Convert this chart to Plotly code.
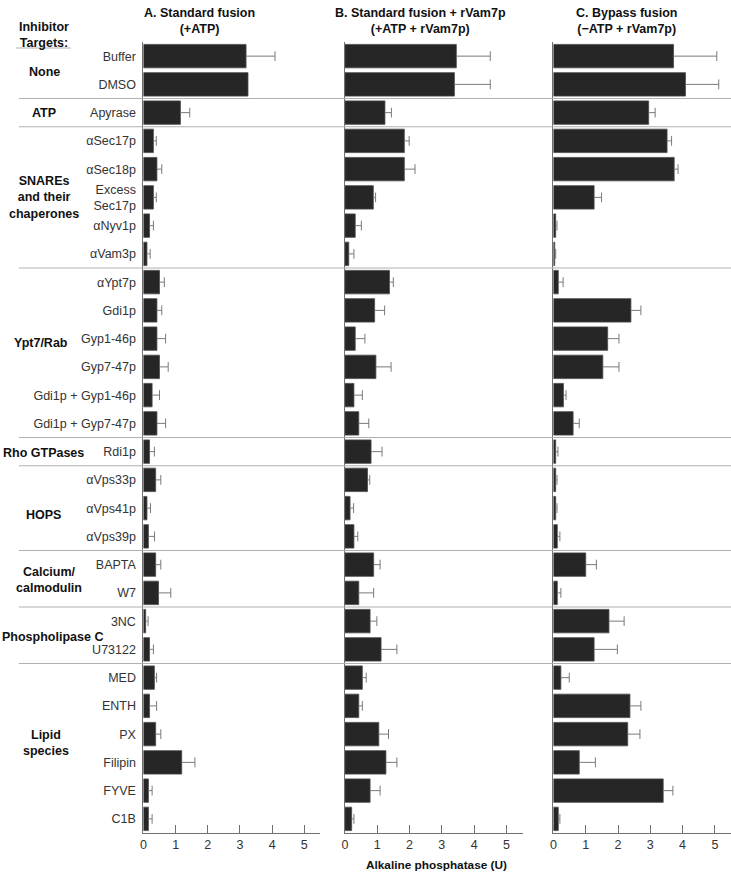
import plotly.graph_objects as go

# ---------------- data ----------------
categories = ["Buffer", "DMSO", "Apyrase",
              "αSec17p", "αSec18p", "Excess<br>Sec17p", "αNyv1p", "αVam3p",
              "αYpt7p", "Gdi1p", "Gyp1-46p", "Gyp7-47p", "Gdi1p + Gyp1-46p", "Gdi1p + Gyp7-47p",
              "Rdi1p",
              "αVps33p", "αVps41p", "αVps39p",
              "BAPTA", "W7",
              "3NC", "U73122",
              "MED", "ENTH", "PX", "Filipin", "FYVE", "C1B"]

groups = ["None", "ATP", "SNAREs<br>and their<br>chaperones", "Ypt7/Rab", "Rho GTPases",
          "HOPS", "Calcium/<br>calmodulin", "Phospholipase C", "Lipid<br>species"]
group_sizes = [2, 1, 5, 6, 1, 3, 2, 2, 6]

panel_titles = ["A. Standard fusion<br>(+ATP)",
                "B. Standard fusion + rVam7p<br>(+ATP + rVam7p)",
                "C. Bypass fusion<br>(\u2212ATP + rVam7p)"]

A_mean = [3.19, 3.25, 1.15, 0.31, 0.42, 0.31, 0.19, 0.11, 0.50, 0.42, 0.42, 0.50, 0.27, 0.42,
          0.19, 0.38, 0.11, 0.155, 0.38, 0.47, 0.07, 0.19, 0.34, 0.19, 0.38, 1.19, 0.155, 0.155]
A_err = [0.90, 0.0, 0.29, 0.09, 0.15, 0.09, 0.12, 0.10, 0.15, 0.15, 0.27, 0.27, 0.23, 0.27,
         0.15, 0.16, 0.11, 0.19, 0.16, 0.38, 0.075, 0.12, 0.07, 0.22, 0.16, 0.41, 0.115, 0.115]

B_mean = [3.45, 3.39, 1.24, 1.84, 1.84, 0.88, 0.32, 0.12, 1.38, 0.92, 0.32, 0.96, 0.28, 0.43,
          0.81, 0.70, 0.16, 0.28, 0.89, 0.43, 0.78, 1.12, 0.54, 0.43, 1.05, 1.27, 0.78, 0.21]
B_err = [1.05, 1.11, 0.20, 0.15, 0.33, 0.07, 0.19, 0.16, 0.12, 0.31, 0.30, 0.47, 0.26, 0.31,
         0.34, 0.07, 0.11, 0.12, 0.20, 0.46, 0.21, 0.49, 0.12, 0.11, 0.30, 0.34, 0.31, 0.07]

C_mean = [3.72, 4.09, 2.95, 3.52, 3.74, 1.26, 0.07, 0.04, 0.15, 2.40, 1.68, 1.53, 0.31, 0.61,
          0.07, 0.07, 0.07, 0.12, 1.00, 0.12, 1.72, 1.26, 0.23, 2.37, 2.30, 0.80, 3.40, 0.15]
C_err = [1.34, 1.03, 0.20, 0.14, 0.12, 0.23, 0.04, 0.03, 0.15, 0.31, 0.35, 0.50, 0.08, 0.19,
         0.07, 0.04, 0.04, 0.08, 0.33, 0.11, 0.47, 0.72, 0.26, 0.34, 0.38, 0.50, 0.30, 0.05]

x_ticks = [0, 1, 2, 3, 4, 5]
x_title = "Alkaline phosphatase (U)"
header = "Inhibitor<br>Targets:"

# ---------------- layout constants ----------------
W, H = 731, 873
PLOT_TOP, PLOT_BOTTOM = 42, 833   # page pixels
MT, MB = PLOT_TOP, H - PLOT_BOTTOM
PH = PLOT_BOTTOM - PLOT_TOP
BAR_COLOR = "#262626"
ERR_COLOR = "#7a7a7a"
AXIS_COLOR = "#707070"
SEP_COLOR = "#b0b0b0"
TXT = "#333333"
FONT = "Liberation Sans, Arial, Helvetica, sans-serif"


def pxx(px):
    """page pixel column -> paper x"""
    return px / W


def py(px):
    """page pixel row -> paper y"""
    return (PLOT_BOTTOM - px) / PH


domains = [(pxx(141), pxx(318.7)), (pxx(343.3), pxx(521.7)), (pxx(552.7), 1.0)]
title_cx = [197, 419, 626]
group_x = [42, 41, 41, 38, 41, 41, 46, 50, 43]
group_dy = [0.05, 0, 0, -0.33, 0.05, 0.25, 0.05, 0.05, -0.2]

ypos = list(range(len(categories)))

fig = go.Figure()
series = [(A_mean, A_err), (B_mean, B_err), (C_mean, C_err)]
for i, (mean, err) in enumerate(series):
    xa = "x" if i == 0 else f"x{i + 1}"
    ya = "y" if i == 0 else f"y{i + 1}"
    fig.add_trace(go.Bar(
        x=mean, y=ypos, orientation="h", width=0.83,
        marker=dict(color=BAR_COLOR, line=dict(color="#4a4a4a", width=0.8)),
        xaxis=xa, yaxis=ya, showlegend=False, hoverinfo="x+y"))
    lx, ly, cx, cy = [], [], [], []
    for yv, m, e in zip(ypos, mean, err):
        if e > 0:
            lx += [m, m + e, None]
            ly += [yv, yv, None]
            cx.append(m + e)
            cy.append(yv)
    fig.add_trace(go.Scatter(x=lx, y=ly, mode="lines", line=dict(color=ERR_COLOR, width=1),
                             xaxis=xa, yaxis=ya, showlegend=False, hoverinfo="skip"))
    fig.add_trace(go.Scatter(x=cx, y=cy, mode="markers",
                             marker=dict(symbol="line-ns-open", size=7, color=ERR_COLOR,
                                         line=dict(color=ERR_COLOR, width=1)),
                             xaxis=xa, yaxis=ya, showlegend=False, hoverinfo="skip"))

layout = dict(
    width=W, height=H,
    margin=dict(l=0, r=0, t=MT, b=MB),
    paper_bgcolor="white", plot_bgcolor="white",
    font=dict(family=FONT, color=TXT, size=12),
    bargap=0.17,
)
for i in range(3):
    sfx = "" if i == 0 else str(i + 1)
    layout[f"xaxis{sfx}"] = dict(
        domain=list(domains[i]), range=[0, 5.5], anchor="y" + sfx,
        showline=True, linecolor=AXIS_COLOR, linewidth=1,
        tickvals=x_ticks, ticks="inside", ticklen=8, tickcolor=AXIS_COLOR, tickwidth=1,
        showgrid=False, zeroline=False, tickfont=dict(size=12.5, color=TXT, family=FONT),
        fixedrange=True)
    layout[f"yaxis{sfx}"] = dict(
        anchor="x" + sfx, range=[len(categories) - 0.5, -0.5],
        showline=True, linecolor=AXIS_COLOR, linewidth=1,
        showgrid=False, zeroline=False, fixedrange=True,
        tickvals=ypos, ticktext=categories if i == 0 else None,
        showticklabels=(i == 0), ticks="",
        ticklabelstandoff=4,
        tickfont=dict(size=12.5, color=TXT, family=FONT))
fig.update_layout(**layout)

shapes = []
# group separators
edge = -0.5
for s in group_sizes[:-1]:
    edge += s
    shapes.append(dict(type="line", xref="paper", yref="y", x0=pxx(16), x1=1.0, y0=edge, y1=edge,
                       line=dict(color=SEP_COLOR, width=1)))
# header underline
shapes.append(dict(type="line", xref="paper", yref="paper", x0=pxx(13), x1=pxx(68),
                   y0=py(48), y1=py(48), line=dict(color=SEP_COLOR, width=1)))
fig.update_layout(shapes=shapes)

ann = []
start = 0
for g, s, gx, dy in zip(groups, group_sizes, group_x, group_dy):
    center = start + (s - 1) / 2 + dy
    ann.append(dict(text=f"<b>{g}</b>", xref="paper", yref="y", x=pxx(gx), y=center,
                    xanchor="center", yanchor="middle", showarrow=False, align="center",
                    font=dict(size=12.5, color="#111", family=FONT)))
    start += s
ann.append(dict(text=f"<b>{header}</b>", xref="paper", yref="paper", x=pxx(41), y=py(35),
                xanchor="center", yanchor="middle", showarrow=False, align="center",
                font=dict(size=12.5, color="#111", family=FONT)))
for t, cx in zip(panel_titles, title_cx):
    ann.append(dict(text=f"<b>{t}</b>", xref="paper", yref="paper", x=pxx(cx), y=py(21),
                    xanchor="center", yanchor="middle", showarrow=False, align="center",
                    font=dict(size=12.5, color="#111", family=FONT)))
ann.append(dict(text=f"<b>{x_title}</b>", xref="paper", yref="paper", x=pxx(435), y=py(865),
                xanchor="center", yanchor="middle", showarrow=False,
                font=dict(size=11.8, color="#111", family=FONT)))
fig.update_layout(annotations=ann)

# remove the default 8px page margin so the figure fills the window exactly
fig.write_html("out.html", config={"displayModeBar": False},
               post_script="document.body.style.margin='0';")
